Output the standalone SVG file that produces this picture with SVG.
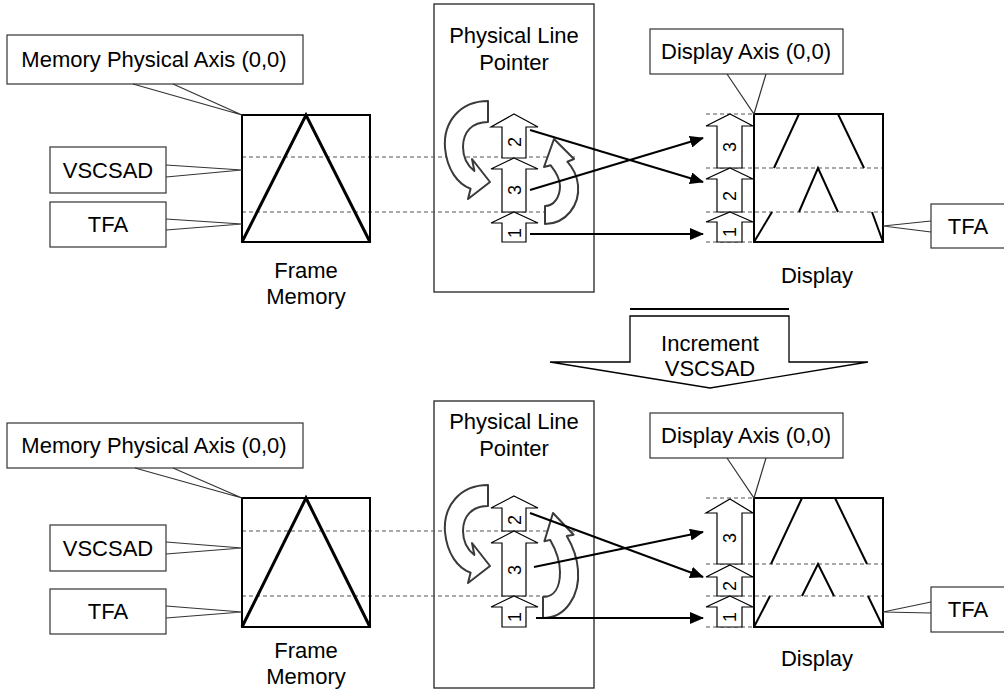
<svg xmlns="http://www.w3.org/2000/svg" width="1004" height="692" viewBox="0 0 1004 692">
<style>
text{font-family:"Liberation Sans",Arial,sans-serif;font-size:22px;fill:#000;text-anchor:middle}
.num{font-size:18px}
.call{fill:#fff;stroke:#333;stroke-width:1.2}
.lead{fill:none;stroke:#333;stroke-width:1.2}
.box{fill:none;stroke:#000;stroke-width:2}
.ptr{fill:none;stroke:#333;stroke-width:1.4}
.tri{fill:none;stroke:#000;stroke-width:3;stroke-linejoin:miter}
.disp{fill:none;stroke:#000;stroke-width:2}
.dash{fill:none;stroke:#555;stroke-width:1.2;stroke-dasharray:4 3}
.varr{fill:#fff;stroke:#000;stroke-width:1.2}
.curl{fill:#fff;stroke:#3a3a3a;stroke-width:2;stroke-linejoin:round}
.conn{fill:none;stroke:#000;stroke-width:2}
</style>
<defs>
<marker id="ah" markerWidth="14" markerHeight="12" refX="13" refY="6" orient="auto" markerUnits="userSpaceOnUse">
<path d="M0,0 L14,6 L0,12 Z" fill="#000"/>
</marker>
<path id="curlL" d="M488,101 C460,101 443,122 445,148 C447,170 458,184 470.6,188.8 L468,199 L490,182 L472,159 L474.4,171 C468,166 463,158 463,147 C463,132 472,122 488,122 Z"/>
</defs>

<!-- ===== TOP ===== -->
<g id="pointer-box-top">
<rect class="ptr" x="434" y="4" width="160" height="288"/>
<text x="514" y="43">Physical Line</text>
<text x="514" y="70">Pointer</text>
</g>

<g id="dashes-top">
<line class="dash" x1="242" y1="157" x2="578" y2="157"/>
<line class="dash" x1="242" y1="212" x2="570" y2="212"/>
<line class="dash" x1="706" y1="114" x2="754" y2="114"/>
<line class="dash" x1="706" y1="168" x2="883" y2="168"/>
<line class="dash" x1="706" y1="212" x2="883" y2="212"/>
<line class="dash" x1="706" y1="242" x2="754" y2="242"/>
</g>

<g id="frame-memory-top">
<rect class="box" x="242" y="115" width="128" height="127"/>
<polyline class="tri" points="242,242 306,115 370,242"/>
<text x="306" y="278">Frame</text>
<text x="306" y="304">Memory</text>
</g>

<g id="callout-mpa-top">
<rect class="call" x="7" y="35" width="296" height="49"/>
<polyline class="lead" points="133,84 242,115 173,84"/>
<text x="154" y="67">Memory Physical Axis (0,0)</text>
</g>
<g id="callout-vscsad-top">
<rect class="call" x="50" y="147" width="116" height="46"/>
<polyline class="lead" points="166,165 242,170 166,177"/>
<text x="108" y="178">VSCSAD</text>
</g>
<g id="callout-tfa-top">
<rect class="call" x="50" y="202" width="116" height="45"/>
<polyline class="lead" points="166,219 242,224 166,230"/>
<text x="108" y="232">TFA</text>
</g>

<g id="pointer-arrows-top">
<polygon class="varr" points="514,114 538,127 526,127 526,158 502,158 502,127 491,127"/>
<text class="num" transform="translate(520.5,142) rotate(-90)">2</text>
<polygon class="varr" points="514,158 538,169 526,169 526,212 502,212 502,169 491,169"/>
<text class="num" transform="translate(520.5,190) rotate(-90)">3</text>
<polygon class="varr" points="514,212 538,223 526,223 526,242 502,242 502,223 491,223"/>
<text class="num" transform="translate(520.5,233) rotate(-90)">1</text>
</g>

<g id="curl-left-top">
<use href="#curlL" class="curl"/>
</g>
<g id="curl-right-top">
<path class="curl" d="M545,224 C566,224 580,205 578,185 C577,175 573,168 567.3,161.7 L574,159 L554,139 L544,167 L550.7,165.3 C556,172 560,178 560,186 C560,197 554,206 545,206 Z"/>
</g>

<g id="display-top">
<rect class="box" x="754" y="114" width="129" height="128"/>
<line class="disp" x1="799" y1="114" x2="774" y2="168"/>
<line class="disp" x1="838" y1="114" x2="864" y2="168"/>
<polyline class="disp" points="799,212 818,168 838,212"/>
<line class="disp" x1="772" y1="212" x2="754" y2="242"/>
<line class="disp" x1="872" y1="212" x2="883" y2="242"/>
<text x="817" y="283">Display</text>
</g>

<g id="display-arrows-top">
<polygon class="varr" points="730,114 753,126 742,126 742,168 717,168 717,126 706,126"/>
<text class="num" transform="translate(736,147) rotate(-90)">3</text>
<polygon class="varr" points="730,168 753,179 742,179 742,212 717,212 717,179 706,179"/>
<text class="num" transform="translate(736,196) rotate(-90)">2</text>
<polygon class="varr" points="730,212 753,222 742,222 742,242 717,242 717,222 706,222"/>
<text class="num" transform="translate(736,232) rotate(-90)">1</text>
</g>

<g id="callout-display-axis-top">
<rect class="call" x="650" y="29" width="193" height="45"/>
<polyline class="lead" points="727,74 754,114 766,74"/>
<text x="746" y="59">Display Axis (0,0)</text>
</g>
<g id="callout-tfa-right-top">
<rect class="call" x="931" y="204" width="80" height="44"/>
<polyline class="lead" points="931,221 883,226 931,232"/>
<text x="968" y="234">TFA</text>
</g>

<g id="increment">
<line x1="630" y1="309" x2="789" y2="309" stroke="#000" stroke-width="2"/>
<path d="M630,316 L789,316 L789,362 L868,362 L710,388 L550,362 L630,362 Z" fill="#fff" stroke="#000" stroke-width="1.3"/>
<text x="710" y="351">Increment</text>
<text x="710" y="376">VSCSAD</text>
</g>

<!-- ===== BOTTOM ===== -->
<g id="pointer-box-bottom">
<rect class="ptr" x="434" y="401" width="160" height="287"/>
<text x="514" y="429">Physical Line</text>
<text x="514" y="456">Pointer</text>
</g>

<g id="dashes-bottom">
<line class="dash" x1="242" y1="531" x2="578" y2="531"/>
<line class="dash" x1="242" y1="596" x2="570" y2="596"/>
<line class="dash" x1="706" y1="498" x2="754" y2="498"/>
<line class="dash" x1="706" y1="564" x2="883" y2="564"/>
<line class="dash" x1="706" y1="596" x2="883" y2="596"/>
<line class="dash" x1="706" y1="627" x2="754" y2="627"/>
</g>

<g id="frame-memory-bottom">
<rect class="box" x="242" y="498" width="128" height="129"/>
<polyline class="tri" points="242,627 306,498 370,627"/>
<text x="306" y="658">Frame</text>
<text x="306" y="684">Memory</text>
</g>

<g id="callout-mpa-bottom">
<rect class="call" x="7" y="423" width="296" height="45"/>
<polyline class="lead" points="135,468 242,498 173,468"/>
<text x="154" y="453">Memory Physical Axis (0,0)</text>
</g>
<g id="callout-vscsad-bottom">
<rect class="call" x="50" y="525" width="116" height="46"/>
<polyline class="lead" points="166,542 242,548 166,554"/>
<text x="108" y="556">VSCSAD</text>
</g>
<g id="callout-tfa-bottom">
<rect class="call" x="50" y="589" width="116" height="45"/>
<polyline class="lead" points="166,606 242,612 166,618"/>
<text x="108" y="619">TFA</text>
</g>

<g id="pointer-arrows-bottom">
<polygon class="varr" points="514,496 538,508 526,508 526,531 502,531 502,508 491,508"/>
<text class="num" transform="translate(520.5,520) rotate(-90)">2</text>
<polygon class="varr" points="514,531 538,543 526,543 526,596 502,596 502,543 491,543"/>
<text class="num" transform="translate(520.5,570) rotate(-90)">3</text>
<polygon class="varr" points="514,596 538,607 526,607 526,627 502,627 502,607 491,607"/>
<text class="num" transform="translate(520.5,617) rotate(-90)">1</text>
</g>

<g id="curl-left-bottom">
<use href="#curlL" class="curl" transform="translate(0,384)"/>
</g>
<g id="curl-right-bottom">
<path class="curl" d="M543,618 C566,618 580,595 578,570 C577,555 572,545 566.8,536.1 L573.6,534.7 L553,513 L544.4,541.3 L550.2,539.9 C556,550 560,560 560,572 C560,588 554,597 543,597 Z"/>
</g>

<g id="display-bottom">
<rect class="box" x="754" y="498" width="129" height="129"/>
<line class="disp" x1="802" y1="498" x2="771" y2="564"/>
<line class="disp" x1="835" y1="498" x2="867" y2="564"/>
<polyline class="disp" points="802,596 818,564 834,596"/>
<line class="disp" x1="770" y1="596" x2="754" y2="627"/>
<line class="disp" x1="868" y1="596" x2="883" y2="627"/>
<text x="817" y="666">Display</text>
</g>

<g id="display-arrows-bottom">
<polygon class="varr" points="730,499 753,513 742,513 742,564 717,564 717,513 706,513"/>
<text class="num" transform="translate(736,538) rotate(-90)">3</text>
<polygon class="varr" points="730,565 753,577 742,577 742,596 717,596 717,577 706,577"/>
<text class="num" transform="translate(736,586) rotate(-90)">2</text>
<polygon class="varr" points="730,596 753,607 742,607 742,627 717,627 717,607 706,607"/>
<text class="num" transform="translate(736,617) rotate(-90)">1</text>
</g>

<g id="callout-display-axis-bottom">
<rect class="call" x="650" y="413" width="193" height="45"/>
<polyline class="lead" points="727,458 754,498 766,458"/>
<text x="746" y="443">Display Axis (0,0)</text>
</g>
<g id="callout-tfa-right-bottom">
<rect class="call" x="931" y="587" width="80" height="45"/>
<polyline class="lead" points="931,602 883,612 931,613"/>
<text x="968" y="617">TFA</text>
</g>

<g id="connectors">
<line class="conn" x1="530" y1="130" x2="703" y2="182" marker-end="url(#ah)"/>
<line class="conn" x1="530" y1="190" x2="703" y2="138" marker-end="url(#ah)"/>
<line class="conn" x1="530" y1="234" x2="703" y2="234" marker-end="url(#ah)"/>
<line class="conn" x1="530" y1="513" x2="703" y2="577" marker-end="url(#ah)"/>
<line class="conn" x1="534" y1="567" x2="703" y2="532" marker-end="url(#ah)"/>
<line class="conn" x1="536" y1="618" x2="703" y2="618" marker-end="url(#ah)"/>
</g>
</svg>
